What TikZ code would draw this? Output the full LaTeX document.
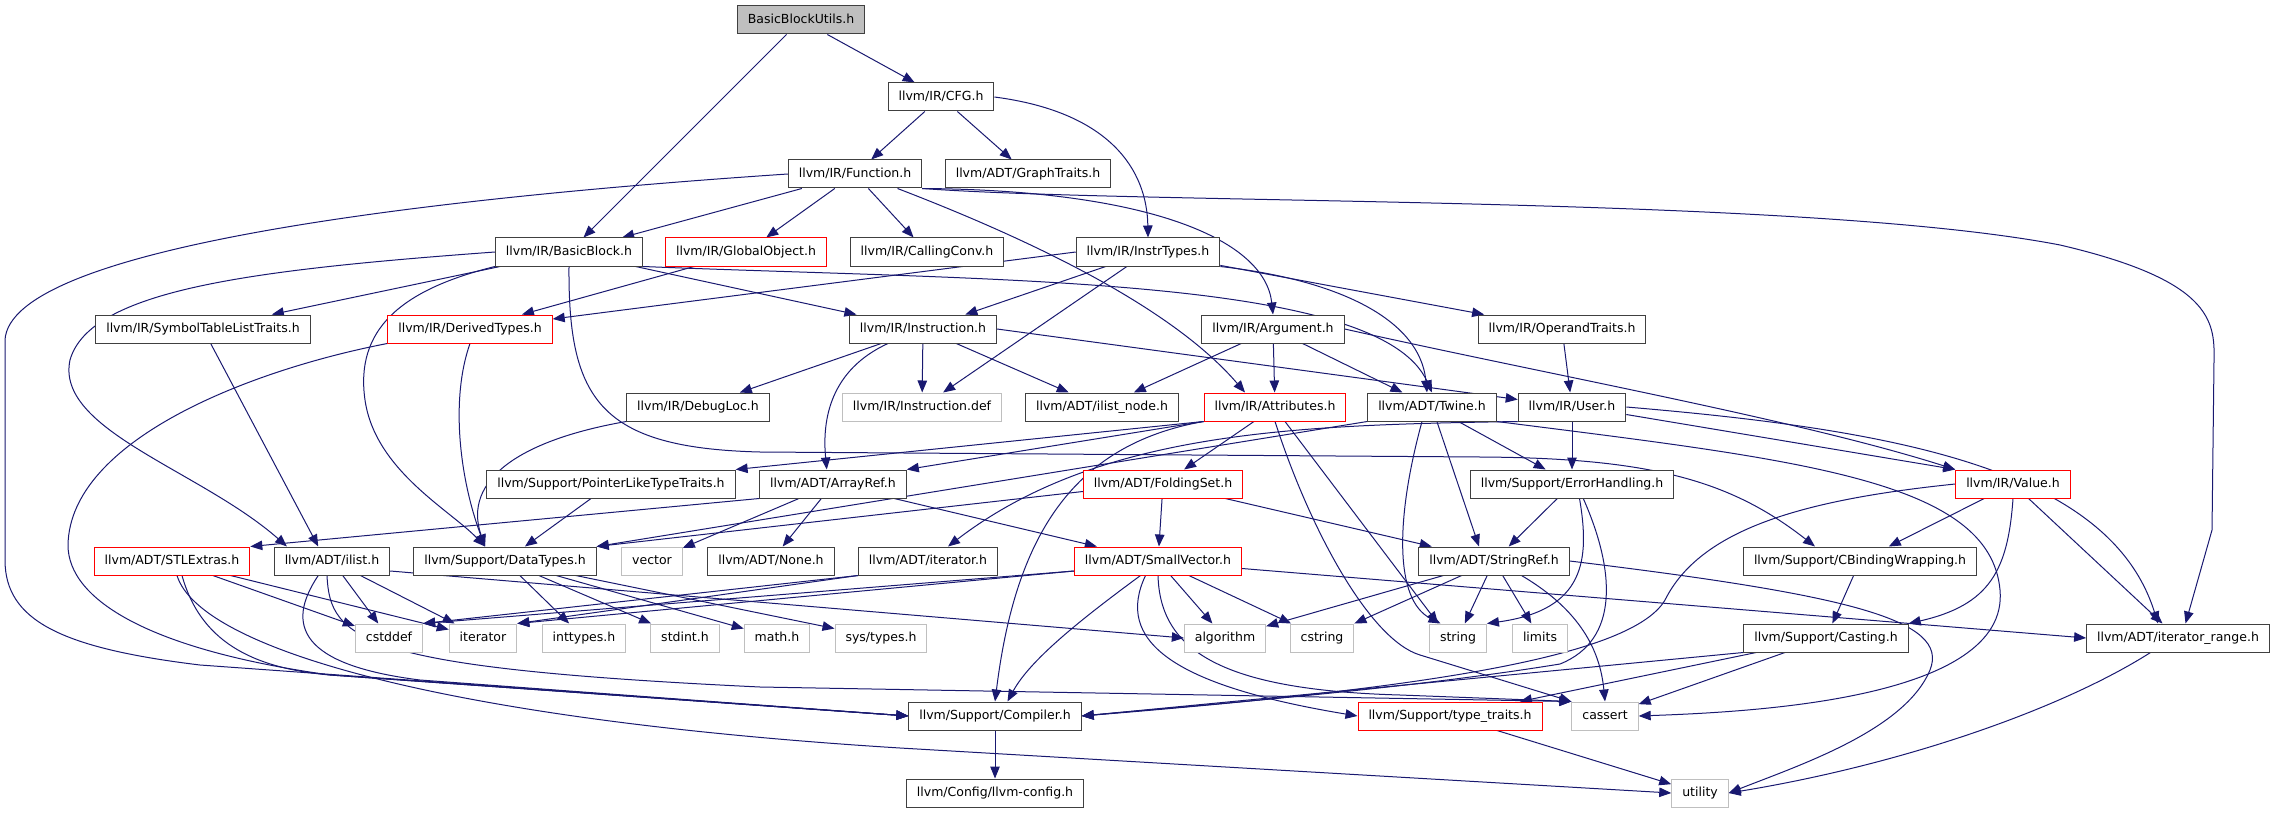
\documentclass[tikz,border=0pt]{standalone}
\usepackage{fontspec}
\setmainfont{DejaVu Sans}
\usetikzlibrary{arrows.meta,backgrounds}
\definecolor{edgeblue}{HTML}{191970}
\definecolor{boxline}{HTML}{404040}
\definecolor{sysline}{HTML}{BFBFBF}
\definecolor{rootfill}{HTML}{BFBFBF}

\begin{document}
\begin{tikzpicture}[x=0.8pt,y=-0.8pt,
    hdr/.style={draw=boxline,fill=white,line width=0.8pt,minimum height=22.4pt,
      inner xsep=8.4pt,inner ysep=0pt,text height=7.6pt,text depth=2.4pt,
      font=\fontsize{10}{12}\selectfont},
    trunc/.style={hdr,draw=red},
    syshdr/.style={hdr,draw=sysline},
    rootbox/.style={hdr,fill=rootfill},
    incl/.style={draw=edgeblue,line width=0.8pt,-{Triangle[length=9.6pt,width=7.6pt]}}]
  \useasboundingbox (0,0) rectangle (2276,813);

  % headers, row by row
  \node[rootbox] (root) at (801,20) {BasicBlockUtils.h};
  \node[hdr] (cfg) at (941,97) {llvm/IR/CFG.h};
  \node[hdr] (func) at (855,174) {llvm/IR/Function.h};
  \node[hdr] (gtraits) at (1028,174) {llvm/ADT/GraphTraits.h};
  \node[hdr] (bblock) at (569,252) {llvm/IR/BasicBlock.h};
  \node[trunc] (globobj) at (746,252) {llvm/IR/GlobalObject.h};
  \node[hdr] (callconv) at (927,252) {llvm/IR/CallingConv.h};
  \node[hdr] (instrtypes) at (1148,252) {llvm/IR/InstrTypes.h};
  \node[hdr] (symtab) at (203,329) {llvm/IR/SymbolTableListTraits.h};
  \node[trunc] (derived) at (470,329) {llvm/IR/DerivedTypes.h};
  \node[hdr] (instr) at (923,329) {llvm/IR/Instruction.h};
  \node[hdr] (argument) at (1273,329) {llvm/IR/Argument.h};
  \node[hdr] (opnd) at (1562,329) {llvm/IR/OperandTraits.h};
  \node[hdr] (debugloc) at (698,407) {llvm/IR/DebugLoc.h};
  \node[syshdr] (instrdef) at (922,407) {llvm/IR/Instruction.def};
  \node[hdr] (ilistnode) at (1102,407) {llvm/ADT/ilist\_node.h};
  \node[trunc] (attrs) at (1275,407) {llvm/IR/Attributes.h};
  \node[hdr] (twine) at (1432,407) {llvm/ADT/Twine.h};
  \node[hdr] (user) at (1572,407) {llvm/IR/User.h};
  \node[hdr] (ptrtraits) at (611,484) {llvm/Support/PointerLikeTypeTraits.h};
  \node[hdr] (arrayref) at (833,484) {llvm/ADT/ArrayRef.h};
  \node[trunc] (folding) at (1163,484) {llvm/ADT/FoldingSet.h};
  \node[hdr] (errh) at (1572,484) {llvm/Support/ErrorHandling.h};
  \node[trunc] (value) at (2013,484) {llvm/IR/Value.h};
  \node[trunc] (stlext) at (172,561) {llvm/ADT/STLExtras.h};
  \node[hdr] (ilist) at (332,561) {llvm/ADT/ilist.h};
  \node[hdr] (dtypes) at (505,561) {llvm/Support/DataTypes.h};
  \node[syshdr] (vector) at (652,561) {vector};
  \node[hdr] (none) at (771,561) {llvm/ADT/None.h};
  \node[hdr] (iterh) at (928,561) {llvm/ADT/iterator.h};
  \node[trunc] (smallvec) at (1158,561) {llvm/ADT/SmallVector.h};
  \node[hdr] (stringref) at (1494,561) {llvm/ADT/StringRef.h};
  \node[hdr] (cbind) at (1860,561) {llvm/Support/CBindingWrapping.h};
  \node[syshdr] (cstddef) at (389,638) {cstddef};
  \node[syshdr] (iterator) at (483,638) {iterator};
  \node[syshdr] (inttypes) at (584,638) {inttypes.h};
  \node[syshdr] (stdint) at (685,638) {stdint.h};
  \node[syshdr] (mathh) at (777,638) {math.h};
  \node[syshdr] (systypes) at (881,638) {sys/types.h};
  \node[syshdr] (algorithm) at (1225,638) {algorithm};
  \node[syshdr] (cstring) at (1322,638) {cstring};
  \node[syshdr] (string) at (1458,638) {string};
  \node[syshdr] (limits) at (1540,638) {limits};
  \node[hdr] (casting) at (1826,638) {llvm/Support/Casting.h};
  \node[hdr] (itrange) at (2178,638) {llvm/ADT/iterator\_range.h};
  \node[hdr] (compiler) at (995,716) {llvm/Support/Compiler.h};
  \node[trunc] (typetraits) at (1450,716) {llvm/Support/type\_traits.h};
  \node[syshdr] (cassert) at (1605,716) {cassert};
  \node[hdr] (llvmconfig) at (995,793) {llvm/Config/llvm-config.h};
  \node[syshdr] (utility) at (1700,793) {utility};

  \begin{pgfonlayer}{background}
  % BasicBlockUtils.h
  \draw[incl] (root) -- (bblock);
  \draw[incl] (root) -- (cfg);
  % CFG.h
  \draw[incl] (cfg) -- (func);
  \draw[incl] (cfg) -- (gtraits);
  \draw[incl] (cfg.east) .. controls (1110,112) and (1147,170) .. (instrtypes.north);
  % Function.h
  \draw[incl] (func) -- (bblock);
  \draw[incl] (func) -- (globobj);
  \draw[incl] (func) -- (callconv);
  \draw[incl] ([xshift=34pt]func.south) .. controls (1115,272) and (1200,340) .. ([xshift=-24pt]attrs.north);
  \draw[incl] (func.south east) .. controls (1150,190) and (1265,240) .. (argument.north);
  \draw[incl] (func.south east) .. controls (1150,205) and (1800,195) .. (2060,245)
    .. controls (2210,280) and (2215,320) .. (2214,360) -- (2212,530) -- ([xshift=6pt]itrange.north);
  \draw[incl] (func.west) .. controls (400,200) and (10,250) .. (5,340) -- (5,560)
    .. controls (5,620) and (60,648) .. (200,665) -- (compiler.west);
  % BasicBlock.h
  \draw[incl] (bblock) -- (symtab);
  \draw[incl] (bblock.west) .. controls (250,270) and (90,290) .. (70,360)
    .. controls (55,430) and (200,470) .. ([xshift=-36pt]ilist.north);
  \draw[incl] (bblock.south west) .. controls (400,290) and (355,330) .. (365,400)
    .. controls (375,470) and (450,510) .. ([xshift=-16pt]dtypes.north);
  \draw[incl] (bblock.south) .. controls (568,400) and (600,448) .. (760,452) -- (1480,457)
    .. controls (1650,458) and (1730,480) .. ([xshift=-36pt]cbind.north);
  \draw[incl] (bblock) -- (instr);
  \draw[incl] (bblock.south east) .. controls (1000,281) and (1380,276) .. (twine.north);
  % GlobalObject.h
  \draw[incl] (globobj) -- (derived);
  % InstrTypes.h
  \draw[incl] (instrtypes.west) -- ([yshift=8pt]derived.east);
  \draw[incl] (instrtypes) -- (instr);
  \draw[incl] (instrtypes) -- (instrdef);
  \draw[incl] (instrtypes) -- (opnd);
  \draw[incl] (instrtypes.south east) .. controls (1340,280) and (1420,320) .. ([xshift=-4pt]twine.north);
  % DerivedTypes.h
  \draw[incl] (derived.south) .. controls (450,400) and (460,480) .. ([xshift=-16pt]dtypes.north);
  \draw[incl] (derived.south west) .. controls (250,370) and (70,440) .. (68,545)
    .. controls (68,600) and (150,650) .. (330,675) -- (compiler.west);
  % SymbolTableListTraits.h
  \draw[incl] (symtab) -- ([xshift=-11pt]ilist.north);
  % Instruction.h
  \draw[incl] (instr) -- (debugloc);
  \draw[incl] ([xshift=-28pt]instr.south) .. controls (830,370) and (822,420) .. ([xshift=-5pt]arrayref.north);
  \draw[incl] (instr) -- (instrdef);
  \draw[incl] (instr) -- (ilistnode);
  \draw[incl] (instr.east) -- ([yshift=6pt]user.west);
  % Argument.h
  \draw[incl] (argument) -- (ilistnode);
  \draw[incl] (argument) -- (attrs);
  \draw[incl] (argument) -- (twine);
  \draw[incl] (argument.east) .. controls (1550,375) and (1800,420) .. (value.north west);
  % OperandTraits.h
  \draw[incl] (opnd) -- (user);
  % DebugLoc.h
  \draw[incl] (debugloc.south west) .. controls (520,440) and (462,480) .. ([xshift=-16pt]dtypes.north);
  % Attributes.h
  \draw[incl] (attrs.south west) -- (arrayref.north east);
  \draw[incl] (attrs.south west) -- (ptrtraits.north east);
  \draw[incl] (attrs) -- (folding);
  \draw[incl] (attrs.south west) .. controls (1070,445) and (1015,540) .. (compiler.north);
  \draw[incl] (attrs.south) .. controls (1310,530) and (1370,640) .. (1420,655) -- (cassert.north west);
  \draw[incl] ([xshift=8pt]attrs.south) -- ([xshift=-16pt]string.north);
  % Twine.h
  \draw[incl] (twine.south west) -- (dtypes.north east);
  \draw[incl] ([xshift=-8pt]twine.south) .. controls (1395,520) and (1395,600) .. ([xshift=-14pt]string.north);
  \draw[incl] (twine) -- ([xshift=-12pt]stringref.north);
  \draw[incl] (twine) -- (errh);
  \draw[incl] (twine.south east) .. controls (1800,460) and (1990,480) .. (2000,590)
    .. controls (2010,700) and (1750,712) .. (cassert.east);
  % User.h
  \draw[incl] (user.south west) .. controls (1300,425) and (1100,430) .. ([xshift=16pt]iterh.north);
  \draw[incl] (user) -- (errh);
  \draw[incl] (user.east) .. controls (1900,430) and (2110,470) .. ([xshift=-16pt]itrange.north);
  \draw[incl] ([yshift=-6pt]user.east) -- (value.north west);
  % PointerLikeTypeTraits.h
  \draw[incl] (ptrtraits) -- (dtypes);
  % ArrayRef.h
  \draw[incl] (arrayref.south west) -- (stlext.north east);
  \draw[incl] (arrayref) -- (vector);
  \draw[incl] (arrayref) -- (none);
  \draw[incl] (arrayref) -- (smallvec);
  % FoldingSet.h
  \draw[incl] (folding) -- (smallvec);
  \draw[incl] (folding) -- (stringref);
  \draw[incl] ([yshift=-6pt]folding.west) -- (dtypes.north east);
  % ErrorHandling.h
  \draw[incl] (errh) -- (stringref);
  \draw[incl] ([xshift=6pt]errh.south) .. controls (1590,560) and (1585,610) .. (string.north east);
  \draw[incl] ([xshift=9pt]errh.south) .. controls (1615,570) and (1620,640) .. (1560,664)
    .. controls (1400,690) and (1200,705) .. (compiler.east);
  % Value.h
  \draw[incl] (value.west) .. controls (1800,500) and (1700,530) .. (1665,600)
    .. controls (1630,660) and (1400,690) .. (compiler.east);
  \draw[incl] (value) -- (cbind);
  \draw[incl] (value.south) .. controls (2008,570) and (1990,605) .. (casting.north east);
  \draw[incl] (value) -- (itrange);
  % STLExtras.h
  \draw[incl] (stlext) -- (cstddef);
  \draw[incl] (stlext) -- (iterator);
  \draw[incl] ([xshift=8pt]stlext.south) .. controls (200,640) and (250,668) .. (330,675) -- (compiler.west);
  \draw[incl] ([xshift=4pt]stlext.south) .. controls (200,650) and (450,720) .. (900,748) -- (utility.west);
  % ilist.h
  \draw[incl] (ilist) -- (cstddef);
  \draw[incl] (ilist) -- (iterator);
  \draw[incl] ([xshift=-11pt]ilist.south) .. controls (285,625) and (300,665) .. (420,680) -- (compiler.west);
  \draw[incl] ([xshift=-4pt]ilist.south) .. controls (330,640) and (360,668) .. (760,687) -- (cassert.north west);
  \draw[incl] ([yshift=-8pt]ilist.east) -- (algorithm.west);
  % DataTypes.h
  \draw[incl] (dtypes) -- (inttypes);
  \draw[incl] (dtypes) -- (stdint);
  \draw[incl] (dtypes) -- (mathh);
  \draw[incl] (dtypes) -- (systypes);
  % iterator.h
  \draw[incl] (iterh.south west) -- (cstddef.north east);
  \draw[incl] (iterh.south west) -- (iterator.north east);
  % SmallVector.h
  \draw[incl] ([yshift=-8pt]smallvec.west) -- (cstddef.north east);
  \draw[incl] ([yshift=-8pt]smallvec.west) -- (iterator.north east);
  \draw[incl] (smallvec) -- (algorithm);
  \draw[incl] (smallvec) -- (cstring);
  \draw[incl] ([xshift=-14pt]smallvec.south) .. controls (1080,620) and (1030,660) .. ([xshift=10pt]compiler.north);
  \draw[incl] ([xshift=-10pt]smallvec.south) .. controls (1115,640) and (1170,685) .. (typetraits.west);
  \draw[incl] (smallvec.south) .. controls (1160,650) and (1220,690) .. (1400,695) -- (cassert.north west);
  \draw[incl] ([yshift=-6pt]smallvec.east) -- (itrange.west);
  % StringRef.h
  \draw[incl] (stringref) -- (algorithm);
  \draw[incl] (stringref) -- (cstring);
  \draw[incl] (stringref) -- (string);
  \draw[incl] (stringref) -- (limits);
  \draw[incl] ([xshift=22pt]stringref.south) .. controls (1580,610) and (1600,650) .. (cassert.north);
  \draw[incl] (stringref.east) .. controls (1850,595) and (1950,620) .. (1930,670)
    .. controls (1905,730) and (1800,765) .. (utility.east);
  % CBindingWrapping.h
  \draw[incl] (cbind) -- (casting);
  % Casting.h
  \draw[incl] (casting.south west) -- (compiler.east);
  \draw[incl] (casting) -- (typetraits);
  \draw[incl] (casting) -- (cassert);
  % iterator_range.h, Compiler.h, type_traits.h
  \draw[incl] ([xshift=-22pt]itrange.south) .. controls (2060,710) and (1900,765) .. (utility.east);
  \draw[incl] (compiler) -- (llvmconfig);
  \draw[incl] (typetraits) -- (utility);
  \end{pgfonlayer}
\end{tikzpicture}
\end{document}
